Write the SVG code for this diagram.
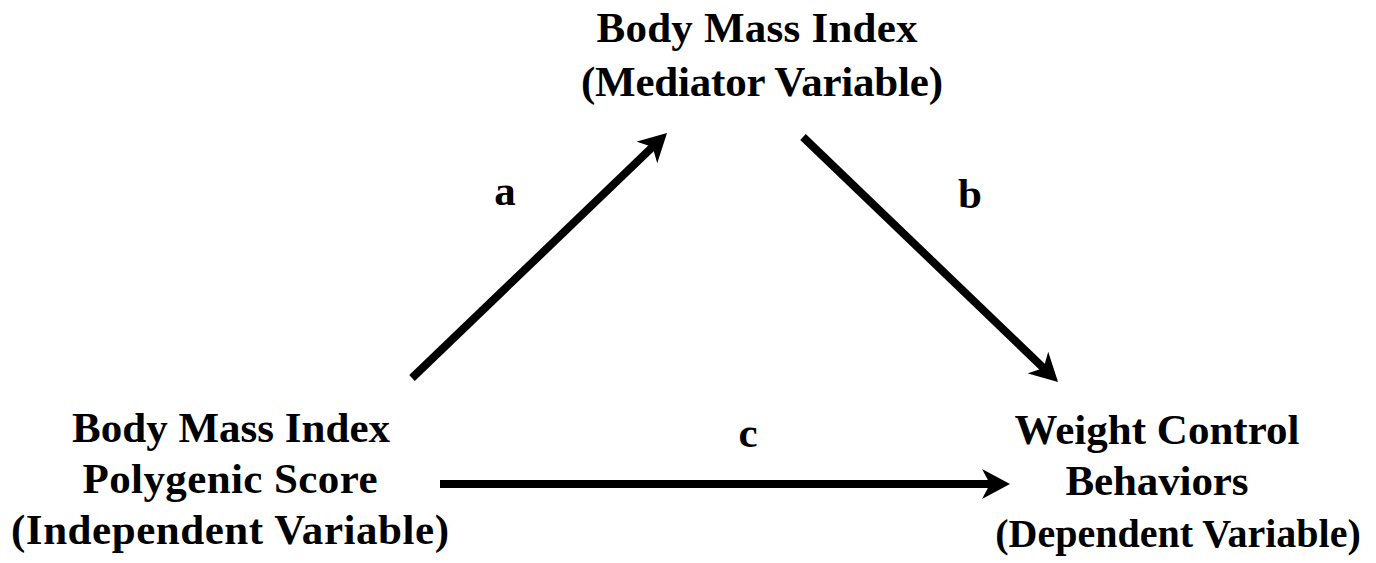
<svg xmlns="http://www.w3.org/2000/svg" width="1376" height="563" viewBox="0 0 1376 563">
<style>
  text { font-family: "Liberation Serif", "Times New Roman", serif; font-weight: bold; font-size: 43px; fill: #000; text-anchor: middle; }
  .conn { stroke: #000; stroke-width: 8; fill: none; stroke-linecap: butt; }
</style>
<defs>
  <marker id="head" viewBox="0 0 28 30" refX="8" refY="15" markerWidth="28" markerHeight="30" markerUnits="userSpaceOnUse" orient="auto">
    <path d="M28,15 L0,0 L8,15 L0,30 Z" fill="#000"/>
  </marker>
</defs>
<rect width="1376" height="563" fill="#fff"/>
<g id="connectors">
  <line class="conn" x1="412" y1="378" x2="652.6" y2="146.9" marker-end="url(#head)"/>
  <line class="conn" x1="803" y1="137" x2="1043.6" y2="368.1" marker-end="url(#head)"/>
  <line class="conn" x1="440" y1="484" x2="990" y2="484" marker-end="url(#head)"/>
  <text x="505" y="205">a</text>
  <text x="970" y="208">b</text>
  <text x="748" y="447">c</text>
</g>
<g id="node-mediator">
  <text x="757" y="42" textLength="321">Body Mass Index</text>
  <text x="762" y="96" textLength="362">(Mediator Variable)</text>
</g>
<g id="node-independent">
  <text x="231" y="442" textLength="318">Body Mass Index</text>
  <text x="230" y="493" textLength="295">Polygenic Score</text>
  <text x="230" y="544" textLength="438">(Independent Variable)</text>
</g>
<g id="node-dependent">
  <text x="1157" y="444" textLength="285">Weight Control</text>
  <text x="1157" y="495" textLength="183">Behaviors</text>
  <text x="1178" y="547" style="font-size:40px">(Dependent Variable)</text>
</g>
</svg>
